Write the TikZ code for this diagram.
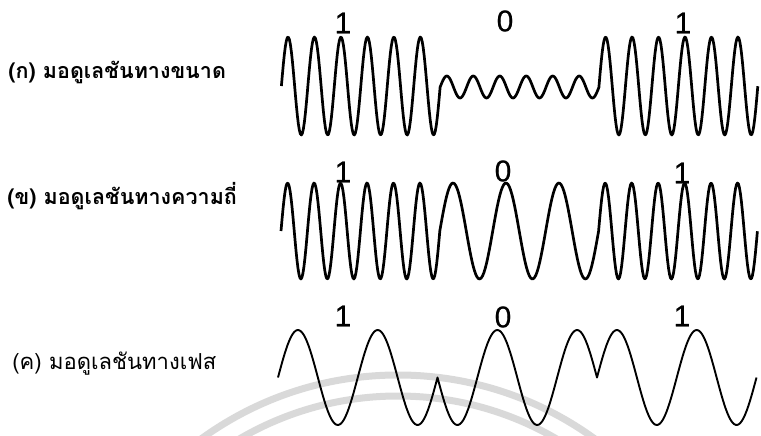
\documentclass[tikz,border=0pt]{standalone}
\usepackage{fontspec}
\newfontfamily\thaifont[Script=Thai]{Loma}
\newfontfamily\digitfont[FakeBold=0.6]{Liberation Sans}
\begin{document}
\begin{tikzpicture}[x=1pt,y=-1pt,thick]
            %
            % `caption' is used for the Thai labels on the left.
            % `bit' is used for the 1/0 digits above the waves.
            % `wave' is used for the carriers of rows (a) and (b).
            % `thinwave' is used for the carrier of row (c).
            % `seal' is used for the grey watermark arcs.
            \tikzstyle{caption} = [anchor=base west,inner sep=0pt,font=\thaifont\bfseries\fontsize{21.5}{24}\selectfont]
            \tikzstyle{bit} = [inner sep=0pt,font=\digitfont\fontsize{30}{32}\selectfont]
            \tikzstyle{wave} = [line width=2.7pt,line join=round]
            \tikzstyle{thinwave} = [line width=1.9pt,line join=round]
            \tikzstyle{seal} = [line width=7pt,draw=black!15]
            %
            \useasboundingbox (0,0) rectangle (761,436);
            %
            % Watermark
            \begin{scope}
                \clip (0,0) rectangle (761,436);
                \draw[seal] (398,710) circle (335pt);
                \draw[seal] (398,710) circle (314pt);
            \end{scope}
            %
            % Row (a): amplitude
            \node[caption] (capA) at (8,79) {(ก) มอดูเลชันทางขนาด};
            \draw[wave] plot[domain=281.4:440.2,samples=160] (\x,{86-49*sin((\x-281.4)/26.47*360)})
                -- plot[domain=440.2:599.0,samples=160] (\x,{87-11*sin((\x-440.2)/26.47*360)})
                -- plot[domain=599.0:757.8,samples=160] (\x,{86-49*sin((\x-599.0)/26.47*360)});
            \node[bit] (bitA1) at (343,23) {1};
            \node[bit] (bitA0) at (505,21) {0};
            \node[bit] (bitA2) at (683,23) {1};
            %
            % Row (b): frequency
            \node[caption] (capB) at (7,204) {(ข) มอดูเลชันทางความถี่};
            \draw[wave] plot[domain=281.0:439.8,samples=160] (\x,{231-48*sin((\x-281.0)/26.47*360)})
                -- plot[domain=439.8:598.6,samples=120] (\x,{231-48*sin((\x-439.8)/52.94*360)})
                -- plot[domain=598.6:757.4,samples=160] (\x,{231-48*sin((\x-598.6)/26.47*360)});
            \node[bit] (bitB1) at (343,172) {1};
            \node[bit] (bitB0) at (503,171) {0};
            \node[bit] (bitB2) at (682,173) {1};
            %
            % Row (c): phase
            \node[caption,font=\thaifont\fontsize{22}{24}\selectfont] (capC) at (12,369) {(ค) มอดูเลชันทางเฟส};
            \draw[thinwave] plot[domain=278.0:437.5,samples=100] (\x,{377.5-47.5*sin((\x-278.0)/79.75*360)})
                -- plot[domain=437.5:597.0,samples=100] (\x,{377.5+47.5*sin((\x-437.5)/79.75*360)})
                -- plot[domain=597.0:756.5,samples=100] (\x,{377.5-47.5*sin((\x-597.0)/79.75*360)});
            \node[bit] (bitC1) at (343,316) {1};
            \node[bit] (bitC0) at (503,317) {0};
            \node[bit] (bitC2) at (682,316) {1};
        \end{tikzpicture}
\end{document}
